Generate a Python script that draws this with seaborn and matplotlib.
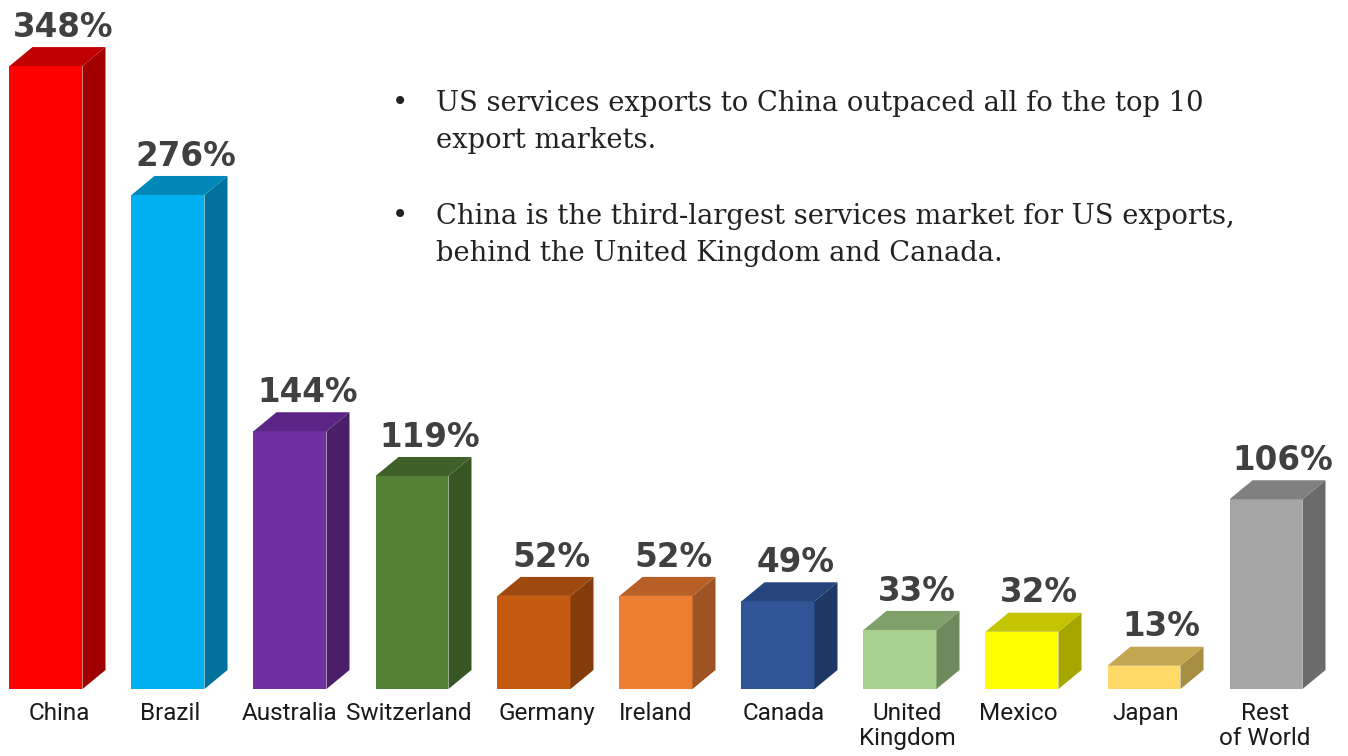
import matplotlib
matplotlib.use("Agg")
import matplotlib.pyplot as plt
import seaborn as sns
import pandas as pd
from matplotlib.patches import Polygon

# ---- data ----
categories = ["China", "Brazil", "Australia", "Switzerland", "Germany", "Ireland",
              "Canada", "United\nKingdom", "Mexico", "Japan", "Rest\nof World"]
values = [348, 276, 144, 119, 52, 52, 49, 33, 32, 13, 106]
value_labels = ["348%", "276%", "144%", "119%", "52%", "52%", "49%", "33%", "32%", "13%", "106%"]
front_colors = ["#FF0000", "#00B0F0", "#7030A0", "#548235", "#C55A11", "#ED7D31",
                "#2F5597", "#A9D18E", "#FFFF00", "#FFD966", "#A5A5A5"]
side_colors = ["#A00000", "#00709C", "#4A1E68", "#375623", "#843C0C", "#9E5322",
               "#1F3864", "#6E8A5C", "#A6A600", "#A68E43", "#6B6B6B"]
top_colors = ["#C00000", "#0088BB", "#5A2585", "#3F6129", "#A0490F", "#B85F27",
              "#26457C", "#80A06B", "#C4C400", "#C2A650", "#808080"]
bullets = [
    ["US services exports to China outpaced all fo the top 10", "export markets."],
    ["China is the third-largest services market for US exports,",
     "behind the United Kingdom and Canada."],
]

# ---- layout (pixels) ----
label_dx_px = [13, 2, 0, -3, 13, 0, 6, 7, -4, 2, -1]

W, H = 1348, 756
fig = plt.figure(figsize=(W / 100, H / 100), dpi=100)
ax = fig.add_axes([0, 0, 1, 1])

df = pd.DataFrame({"cat": categories, "val": values})
sns.barplot(data=df, x="cat", y="val", hue="cat", palette=front_colors,
            width=73 / 122, legend=False, ax=ax, saturation=1,
            edgecolor="none", linewidth=0)

px_per_cat = 122.0
px_per_unit = 1.79
x0_px = 46.0
base_from_bottom = 756 - 689
ax.set_xlim(-x0_px / px_per_cat, (W - x0_px) / px_per_cat)
ax.set_ylim(-base_from_bottom / px_per_unit, (H - base_from_bottom) / px_per_unit)
ax.axis("off")

dx = 23 / px_per_cat
dy = 19 / px_per_unit

for i, p in enumerate(ax.patches):
    xl = p.get_x()
    w = p.get_width()
    h = p.get_height()
    xr = xl + w
    side = Polygon([(xr, 0), (xr + dx, dy), (xr + dx, h + dy), (xr, h)],
                   closed=True, facecolor=side_colors[i], edgecolor="none", zorder=3)
    top = Polygon([(xl, h), (xl + dx, h + dy), (xr + dx, h + dy), (xr, h)],
                  closed=True, facecolor=top_colors[i], edgecolor="none", zorder=3)
    ax.add_patch(side)
    ax.add_patch(top)
    ax.annotate(value_labels[i], (xl + w / 2 + 0.75 * dx, h + dy), xytext=(0, 7.5),
                textcoords="offset points", ha="center", va="baseline",
                fontsize=23.5, fontweight="bold", color="#404040",
                family=["DejaVu Sans"])
    ax.annotate(categories[i], (i, 0), xycoords=("data", "axes fraction"),
                xytext=(label_dx_px[i] * 0.72, (H - 702) * 0.72),
                textcoords="offset points",
                ha="center", va="top", fontsize=17.5, color="#1a1a1a",
                family=["Roboto", "DejaVu Sans"], linespacing=1.1)

baselines = [[111, 148], [224, 261]]
for b, lines in enumerate(bullets):
    fig.text(400 / W, 1 - baselines[b][0] / H, "\u2022", ha="center", va="baseline",
             fontsize=19.7, color="#222222", family=["DejaVu Serif"])
    for j, line in enumerate(lines):
        fig.text(436 / W, 1 - baselines[b][j] / H, line, ha="left", va="baseline",
                 fontsize=19.7, color="#222222", family=["DejaVu Serif"])

fig.savefig("out.png", dpi=100, facecolor="white")
